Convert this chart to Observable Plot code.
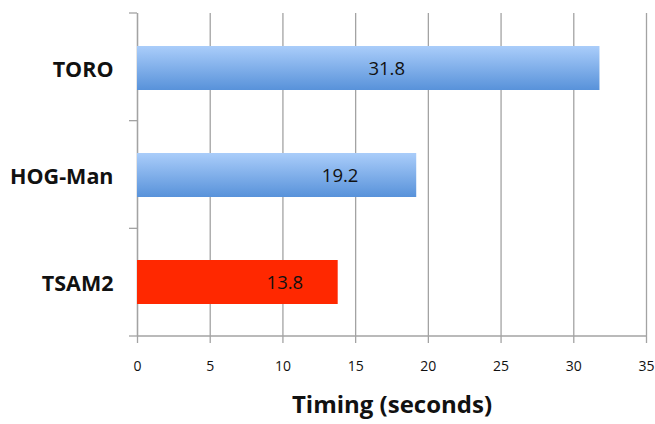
<!DOCTYPE html>
<html>
<head>
<meta charset="utf-8">
<script src="https://cdn.jsdelivr.net/npm/d3@7"></script>
<script src="https://cdn.jsdelivr.net/npm/@observablehq/plot@0.6"></script>
<style>
  body { margin: 0; background: #fff; }
  #chart svg { display: block; }
</style>
</head>
<body>
<div id="chart"></div>
<script>
// Optimisation timing per method
const methods = ["TORO", "HOG-Man", "TSAM2"];
const timings = [31.8, 19.2, 13.8];
const xTicks = [0, 5, 10, 15, 20, 25, 30, 35];
const axisTitle = "Timing (seconds)";

const rows = methods.map((name, i) => ({name, value: timings[i]}));

// Styling
const gridColor = "#a3a3a3";
const highlight = "TSAM2";
const highlightFill = "#ff2800";
const labelNudge = {"TORO": 18, "HOG-Man": 63, "TSAM2": 47}; // px shift of value labels

// Category boundary ticks on the left axis plus the bottom baseline
function categoryFrame(index, scales, values, dimensions) {
  const {width, height, marginTop, marginBottom, marginLeft, marginRight} = dimensions;
  const n = methods.length;
  const step = (height - marginTop - marginBottom) / n;
  const g = d3.create("svg:g").attr("stroke", gridColor).attr("stroke-width", 1.3);
  for (let i = 0; i <= n; ++i) {
    const y = marginTop + i * step;
    g.append("line").attr("x1", marginLeft - 8).attr("x2", marginLeft).attr("y1", y).attr("y2", y);
  }
  const yb = height - marginBottom;
  g.append("line").attr("x1", marginLeft).attr("x2", width - marginRight).attr("y1", yb).attr("y2", yb);
  return g.node();
}

const chart = Plot.plot({
  width: 655,
  height: 424,
  marginLeft: 137,
  marginRight: 9,
  marginTop: 13,
  marginBottom: 88,
  style: {fontFamily: "'Open Sans', sans-serif", color: "#111", background: "#fff"},
  x: {domain: [0, 35]},
  y: {domain: methods, paddingInner: 0.59, paddingOuter: 0.295},
  color: {type: "identity"},
  marks: [
    Plot.gridX(xTicks, {stroke: gridColor, strokeOpacity: 1, strokeWidth: 1.3}),
    Plot.ruleX([0], {stroke: gridColor, strokeWidth: 1.3}),
    categoryFrame,
    Plot.axisX({ticks: xTicks, tickSize: 7, tickPadding: 18, stroke: gridColor, strokeWidth: 1.3,
                fontSize: 14, label: null, fill: "#111"}),
    Plot.axisY({tickSize: 0, tickPadding: 24, fontSize: 21.5, fontWeight: "bold", dy: 2, label: null, fill: "#111"}),
    Plot.barX(rows, {
      x: "value", y: "name",
      fill: d => d.name === highlight ? highlightFill : "url(#barBlue)",
      ariaLabel: "bars"
    }),
    ...methods.map(m => Plot.text(rows, {
      filter: d => d.name === m,
      x: d => d.value / 2, y: "name",
      text: d => d.value.toFixed(1),
      dx: labelNudge[m], dy: 1,
      fontSize: 18.5, fill: "#111"
    })),
    Plot.text([axisTitle], {
      text: d => d, frameAnchor: "bottom", dy: 76,
      fontSize: 24, fontWeight: "bold", fill: "#111"
    })
  ]
});

// Gradient and soft drop shadow for the bars
const svg = d3.select(chart);
const defs = svg.insert("defs", ":first-child");
const grad = defs.append("linearGradient").attr("id", "barBlue")
  .attr("x1", 0).attr("y1", 0).attr("x2", 0).attr("y2", 1);
grad.append("stop").attr("offset", "0%").attr("stop-color", "#aacdfa");
grad.append("stop").attr("offset", "100%").attr("stop-color", "#5892da");
const shadow = defs.append("filter").attr("id", "barShadow")
  .attr("x", "-5%").attr("y", "-20%").attr("width", "115%").attr("height", "160%");
shadow.append("feDropShadow").attr("dx", 2).attr("dy", 3).attr("stdDeviation", 2)
  .attr("flood-color", "#000").attr("flood-opacity", 0.35);
svg.selectAll("g[aria-label='bars']").attr("filter", "url(#barShadow)");

document.getElementById("chart").append(chart);
</script>
</body>
</html>
